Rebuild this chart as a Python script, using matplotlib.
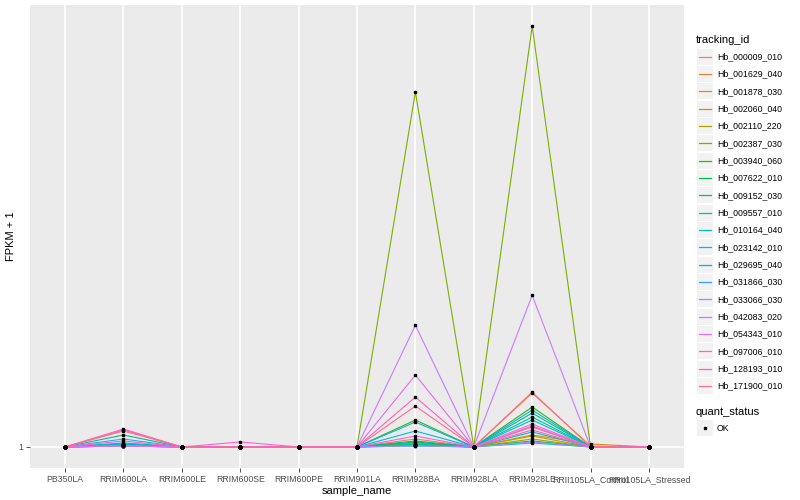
import matplotlib
matplotlib.use("Agg")
import matplotlib.pyplot as plt
from matplotlib.patches import Rectangle
from matplotlib.lines import Line2D

plt.rcParams['font.family'] = ['Liberation Sans', 'DejaVu Sans']

samples = ["PB350LA", "RRIM600LA", "RRIM600LE", "RRIM600SE", "RRIM600PE", "RRIM901LA",
           "RRIM928BA", "RRIM928LA", "RRIM928LE", "RRII105LA_Control", "RRII105LA_Stressed"]

tracking_ids = ["Hb_000009_010", "Hb_001629_040", "Hb_001878_030", "Hb_002060_040",
                "Hb_002110_220", "Hb_002387_030", "Hb_003940_060", "Hb_007622_010",
                "Hb_009152_030", "Hb_009557_010", "Hb_010164_040", "Hb_023142_010",
                "Hb_029695_040", "Hb_031866_030", "Hb_033066_030", "Hb_042083_020",
                "Hb_054343_010", "Hb_097006_010", "Hb_128193_010", "Hb_171900_010"]

colors = ["#F8766D", "#EA8331", "#D89000", "#C09B00", "#A3A500", "#7CAE00", "#39B600",
          "#00BB4E", "#00BF7D", "#00C1A3", "#00BFC4", "#00BAE0", "#00B0F6", "#35A2FF",
          "#9590FF", "#C77CFF", "#E76BF3", "#FA62DB", "#FF62BC", "#FF6C91"]

# FPKM + 1, one list per tracking_id, in sample order
fpkm = {
    "Hb_000009_010": [1.0, 2.7, 1.0, 1.0, 1.0, 1.0, 1.8, 1.0, 3.0, 1.0, 1.0],
    "Hb_001629_040": [1.0, 1.1, 1.0, 1.0, 1.0, 1.0, 1.2, 1.0, 6.4, 1.1, 1.0],
    "Hb_001878_030": [1.0, 1.1, 1.0, 1.0, 1.0, 1.0, 1.4, 1.0, 2.2, 1.3, 1.0],
    "Hb_002060_040": [1.0, 1.2, 1.0, 1.0, 1.0, 1.0, 1.3, 1.0, 2.1, 1.0, 1.0],
    "Hb_002110_220": [1.0, 1.1, 1.0, 1.0, 1.0, 1.0, 1.2, 1.0, 1.8, 1.0, 1.0],
    "Hb_002387_030": [1.0, 1.1, 1.0, 1.0, 1.0, 1.0, 36.6, 1.0, 43.2, 1.0, 1.0],
    "Hb_003940_060": [1.0, 1.2, 1.0, 1.0, 1.0, 1.0, 3.7, 1.0, 5.0, 1.0, 1.0],
    "Hb_007622_010": [1.0, 1.3, 1.0, 1.0, 1.0, 1.0, 1.5, 1.0, 1.6, 1.0, 1.0],
    "Hb_009152_030": [1.0, 2.2, 1.0, 1.0, 1.0, 1.0, 1.6, 1.0, 4.4, 1.0, 1.0],
    "Hb_009557_010": [1.0, 1.4, 1.0, 1.0, 1.0, 1.0, 1.3, 1.0, 4.0, 1.0, 1.0],
    "Hb_010164_040": [1.0, 1.3, 1.0, 1.0, 1.0, 1.0, 1.2, 1.0, 3.7, 1.0, 1.0],
    "Hb_023142_010": [1.0, 1.2, 1.0, 1.0, 1.0, 1.0, 2.6, 1.0, 2.5, 1.0, 1.0],
    "Hb_029695_040": [1.0, 1.2, 1.0, 1.0, 1.0, 1.0, 3.5, 1.0, 4.7, 1.0, 1.0],
    "Hb_031866_030": [1.0, 1.8, 1.0, 1.0, 1.0, 1.0, 1.1, 1.0, 1.4, 1.0, 1.0],
    "Hb_033066_030": [1.0, 1.1, 1.0, 1.0, 1.0, 1.0, 1.1, 1.0, 1.5, 1.0, 1.0],
    "Hb_042083_020": [1.0, 1.1, 1.0, 1.0, 1.0, 1.0, 13.2, 1.0, 16.2, 1.0, 1.0],
    "Hb_054343_010": [1.0, 1.1, 1.0, 1.0, 1.0, 1.0, 8.2, 1.0, 3.3, 1.0, 1.0],
    "Hb_097006_010": [1.0, 1.6, 1.0, 1.5, 1.0, 1.0, 2.1, 1.0, 3.1, 1.0, 1.0],
    "Hb_128193_010": [1.0, 2.8, 1.0, 1.0, 1.0, 1.0, 6.0, 1.0, 2.7, 1.0, 1.0],
    "Hb_171900_010": [1.0, 2.6, 1.0, 1.0, 1.0, 1.0, 5.1, 1.0, 6.5, 1.0, 1.0],
}

fig = plt.figure(figsize=(8, 5), dpi=100)
ax = fig.add_axes([30 / 800, 32 / 500, 654 / 800, 463 / 500])
ax.set_facecolor("#EBEBEB")

x = list(range(len(samples)))
for tid, col in zip(tracking_ids, colors):
    ax.plot(x, fpkm[tid], color=col, lw=0.8, zorder=2)
for tid in tracking_ids:
    ax.plot(x, fpkm[tid], ls="none", marker="s", ms=2.0, color="black", zorder=3)

ax.set_xlim(-0.6, len(samples) - 0.4)
ymax = max(max(v) for v in fpkm.values())
pad = (ymax - 1) * 0.05
ax.set_ylim(1 - pad, ymax + pad)
ax.set_xticks(x)
ax.set_xticklabels(samples, fontsize=6.3, color="#4D4D4D")
ax.set_yticks([1])
ax.set_yticklabels(["1"], fontsize=6.3, color="#4D4D4D")
ax.grid(True, color="white", lw=1.1, zorder=0)
ax.set_axisbelow(True)
ax.tick_params(length=3, width=0.6, color="#333333", pad=2)
for s in ax.spines.values():
    s.set_visible(False)
ax.set_xlabel("sample_name", fontsize=8)
ax.set_ylabel("FPKM + 1", fontsize=8)
ax.xaxis.set_label_coords(0.5, -0.038)
ax.yaxis.set_label_coords(-0.0214, 0.5)

# legend drawn in figure pixels, ggplot style
def px(xp, yp):
    return xp / 800, 1 - yp / 500

fig.text(*px(696, 40), "tracking_id", fontsize=8, va="center", ha="left")
for i, (tid, col) in enumerate(zip(tracking_ids, colors)):
    yc = 56.7 + i * 17.33
    bx, by = px(697, yc + 8)
    fig.add_artist(Rectangle((bx, by), 16 / 800, 16 / 500, transform=fig.transFigure,
                             facecolor="#F2F2F2", edgecolor="none"))
    x0, y0 = px(699, yc)
    x1, _ = px(711, yc)
    fig.add_artist(Line2D([x0, x1], [y0, y0], transform=fig.transFigure, color=col, lw=0.9))
    fig.text(*px(717, yc), tid, fontsize=6.3, va="center", ha="left")

fig.text(*px(696, 412), "quant_status", fontsize=8, va="center", ha="left")
bx, by = px(697, 436.3)
fig.add_artist(Rectangle((bx, by), 16 / 800, 16 / 500, transform=fig.transFigure,
                         facecolor="#F2F2F2", edgecolor="none"))
fig.add_artist(Line2D([px(705, 0)[0]], [px(0, 428.3)[1]], transform=fig.transFigure,
                      marker="s", ms=2.0, color="black", ls="none"))
fig.text(*px(717, 428.3), "OK", fontsize=6.3, va="center", ha="left")

fig.savefig("out.png", dpi=100)
